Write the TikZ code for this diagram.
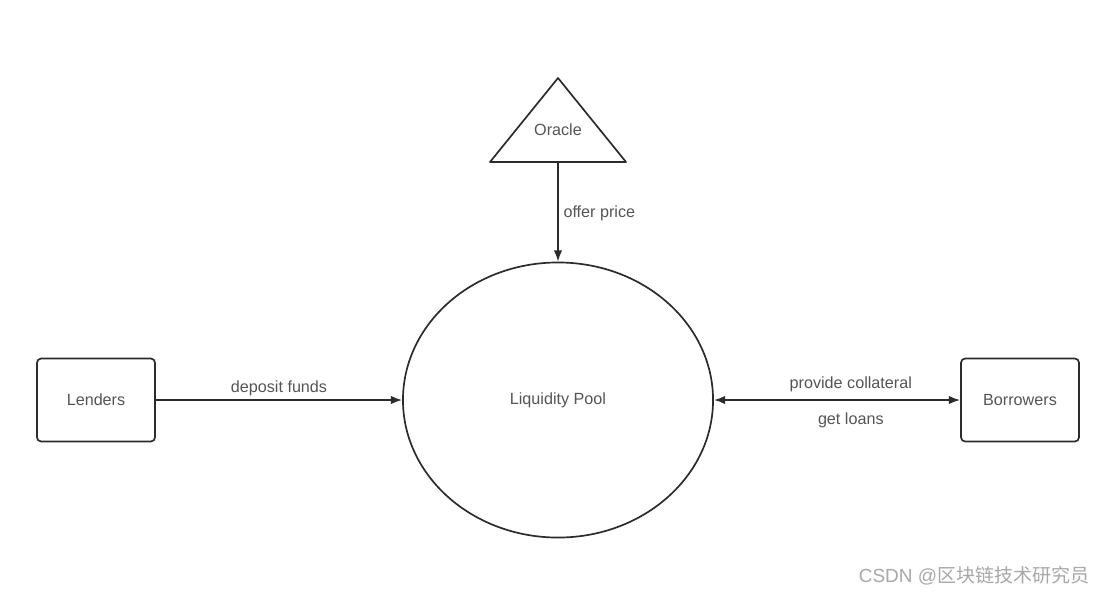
\documentclass[tikz,border=0pt]{standalone}
\usepackage{fontspec}
\setmainfont{Liberation Sans}
\newfontfamily\cjkfont{Noto Sans CJK SC}
\usepackage{xcolor}
\usetikzlibrary{arrows.meta,positioning,shapes.geometric,calc}
\definecolor{poolLine}{HTML}{2B2B2B}
\definecolor{poolText}{HTML}{555555}
\definecolor{markGray}{HTML}{A8A8A8}
\tikzset{
  party/.style={rectangle, rounded corners=3pt, draw=poolLine, line width=1.2pt, fill=white, align=center, minimum width=2.95cm, minimum height=2.075cm, text=poolText, font=\fontsize{11.5}{13}\selectfont},
  pool/.style={ellipse, draw=poolLine, line width=1.2pt, minimum width=7.75cm, minimum height=6.875cm, text=poolText, font=\fontsize{11.5}{13}\selectfont},
  lbl/.style={text=poolText, font=\fontsize{11.5}{13}\selectfont},
  arrow/.style={-{Latex[length=8pt,width=6pt]}, line width=1.2pt, draw=poolLine},
  twoway/.style={{Latex[length=8pt,width=6pt]}-{Latex[length=8pt,width=6pt]}, line width=1.3pt, draw=poolLine}
}
\begin{document}
\begin{tikzpicture}[x=0.025cm, y=-0.025cm]
\useasboundingbox[fill=white] (0,0) rectangle (1108,594);
\node[pool] (liquidity) at (558,400) {Liquidity Pool};
\node[party] (lenders) at (96,400) {Lenders};
\node[party] (borrowers) at (1020,400) {Borrowers};
% oracle triangle
\draw[draw=poolLine, line width=1.2pt, line join=round] (558,78) -- (626,162) -- (490,162) -- cycle;
\node[lbl] (oracle) at (558,130) {Oracle};
\coordinate (oraclebase) at (558,162);
\draw[arrow] (oraclebase) -- node[lbl, right=0pt, pos=0.52]{offer price} (liquidity.north);
\draw[arrow] (lenders) -- node[lbl, above=-1pt]{deposit funds} (liquidity);
\draw[twoway] (liquidity) -- node[lbl, above=1.5pt, pos=0.556]{provide collateral} node[lbl, below=5pt, pos=0.556]{get loans} (borrowers);
\node[text=markGray, font=\fontsize{13.5}{15}\selectfont, anchor=east] (mark) at (1094,576) {CSDN @{\cjkfont 区块链技术研究员}};
\end{tikzpicture}
\end{document}
